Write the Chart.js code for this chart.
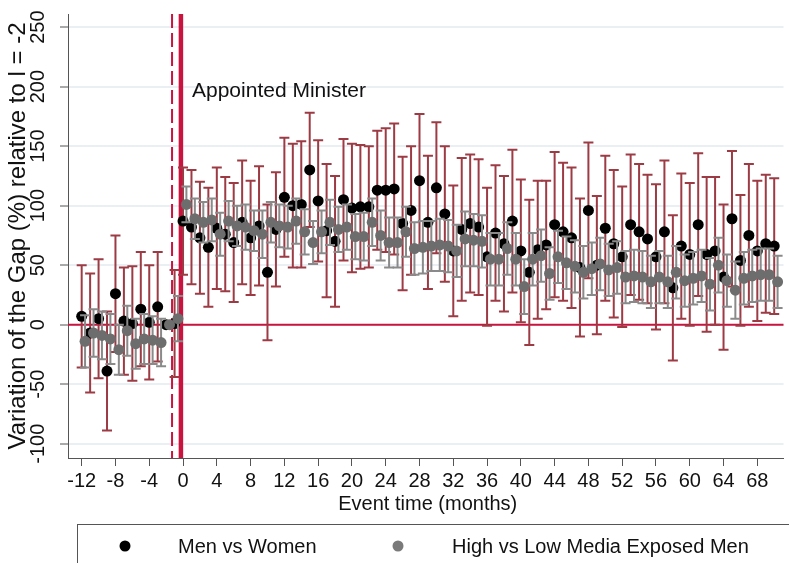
<!DOCTYPE html>
<html lang="en">
<head>
<meta charset="UTF-8">
<title>Variation of the Gap around the appointment</title>
<script src="https://cdn.jsdelivr.net/npm/chart.js@4.4.1/dist/chart.umd.min.js"></script>
<style>
  *{margin:0;padding:0;box-sizing:border-box}
  body{background:#fff;width:789px;height:563px;overflow:hidden}
  #chart{display:block}
</style>
</head>
<body>
<canvas id="chart" width="789" height="563"></canvas>
<script>
// event time (months); -2 is the reference month
const months = [-12,-11,-10,-9,-8,-7,-6,-5,-4,-3,-2,-1,
  0,1,2,3,4,5,6,7,8,9,10,11,12,13,14,15,16,17,18,19,20,21,22,23,24,25,26,27,28,29,
  30,31,32,33,34,35,36,37,38,39,40,41,42,43,44,45,46,47,48,49,50,51,52,53,54,55,56,57,
  58,59,60,61,62,63,64,65,66,67,68,69,70];

// Men vs Women: point estimate and half-width of the 95% CI
const menWomen = [7,-7,5,-39,26,3,1,13,2,15,0,1,
  87,82,73,65,81,76,69,86,73,83,44,80,107,100,101,130,104,79,70,105,98,99,99,113,113,114,85,96,121,86,
  115,93,62,80,85,82,57,77,68,87,62,44,63,67,84,78,73,48,96,50,81,68,57,84,78,72,57,78,
  31,66,59,84,59,62,40,89,54,75,62,68,66];
const menWomenCI = [43,50,50,50,49,45,48,48,48,46,0,45,
  45,48,47,50,51,48,50,52,48,50,57,48,50,52,53,48,51,56,55,51,54,52,51,50,52,55,56,54,56,56,
  55,57,55,60,58,57,58,57,57,60,60,61,58,54,61,58,59,58,57,58,61,62,59,59,57,54,61,60,
  61,61,60,60,65,62,61,57,55,60,59,58,57];

// High vs Low Media Exposed Men
const mediaExposed = [-14,-7,-9,-12,-21,-5,-16,-12,-13,-15,0,5,
  101,89,86,88,76,87,83,82,79,76,86,83,82,87,78,69,78,86,80,82,74,74,86,75,69,69,78,64,65,66,
  67,66,62,72,71,70,55,55,64,55,32,55,58,43,57,52,49,44,47,51,46,48,40,41,40,36,40,36,
  44,37,39,41,34,50,37,29,39,41,42,42,36];
const mediaExposedCI = [22,20,20,21,21,21,21,21,20,20,0,19,
  15,17,17,18,18,17,17,19,17,20,17,18,18,19,19,18,18,19,19,19,19,20,20,21,21,21,21,22,22,21,
  22,22,22,23,22,22,22,22,22,22,23,22,22,22,22,22,22,22,22,22,22,22,22,22,22,22,22,22,
  22,22,22,22,22,23,22,24,22,22,22,22,22];

const xTicks = [-12,-8,-4,0,4,8,12,16,20,24,28,32,36,40,44,48,52,56,60,64,68];
const yTicks = [-100,-50,0,50,100,150,200,250];

const FONT = '"Liberation Sans", Arial, Helvetica, sans-serif';
const RED = '#c8143f';

// vertical CI caps, drawn right before each scatter series
const errorBars = {
  id: 'errorBars',
  beforeDatasetDraw(chart, args) {
    const ds = chart.data.datasets[args.index];
    const y = chart.scales.y, c = chart.ctx;
    c.save();
    c.strokeStyle = ds.barColor;
    c.lineWidth = 2;
    args.meta.data.forEach((pt, i) => {
      const h = ds.halfWidth[i];
      if (!h) return;
      const v = ds.data[i].y;
      const top = y.getPixelForValue(v + h), bot = y.getPixelForValue(v - h);
      c.beginPath();
      c.moveTo(pt.x, top); c.lineTo(pt.x, bot);
      c.moveTo(pt.x - 5, top); c.lineTo(pt.x + 5, top);
      c.moveTo(pt.x - 5, bot); c.lineTo(pt.x + 5, bot);
      c.stroke();
    });
    c.restore();
  }
};

// zero line, announcement (dashed) and appointment (solid) markers
const refLines = {
  id: 'refLines',
  beforeDatasetsDraw(chart) {
    const {ctx: c, chartArea: a, scales: {x, y}} = chart;
    c.save();
    c.strokeStyle = RED;
    c.lineWidth = 2;
    const y0 = y.getPixelForValue(0);
    c.beginPath(); c.moveTo(a.left, y0); c.lineTo(a.right, y0); c.stroke();
    c.setLineDash([14, 5]);
    const xd = x.getPixelForValue(-1.3);
    c.beginPath(); c.moveTo(xd, a.top); c.lineTo(xd, a.bottom); c.stroke();
    c.setLineDash([]);
    c.lineWidth = 4.5;
    const xs = x.getPixelForValue(-0.25);
    c.beginPath(); c.moveTo(xs, a.top); c.lineTo(xs, a.bottom); c.stroke();
    c.restore();
  }
};

// axis titles, the annotation and the boxed legend
const labels = {
  id: 'labels',
  afterDraw(chart) {
    const {ctx: c, chartArea: a, scales: {x}} = chart;
    c.save();
    c.fillStyle = '#111';
    c.font = '21px ' + FONT;
    c.textBaseline = 'alphabetic';
    c.textAlign = 'left';
    c.fillText('Appointed Minister', 192, 97);

    c.font = '20px ' + FONT;
    c.textAlign = 'center';
    c.fillText('Event time (months)', (a.left + a.right) / 2 + 2, 510);

    c.save();
    c.translate(25, (a.top + a.bottom) / 2);
    c.rotate(-Math.PI / 2);
    c.font = '24px ' + FONT;
    c.fillText('Variation of the Gap (%) relative to l = -2', 0, 0);
    c.restore();

    // legend box runs off the bottom/right edge
    c.strokeStyle = '#555';
    c.lineWidth = 1;
    c.strokeRect(77.5, 524.5, 760, 60);
    c.font = '20px ' + FONT;
    c.textAlign = 'left';
    const items = [
      {dot: '#000', text: 'Men vs Women', dx: 125, tx: 178},
      {dot: '#7a7a7a', text: 'High vs Low Media Exposed Men', dx: 398, tx: 452}
    ];
    items.forEach(it => {
      c.fillStyle = it.dot;
      c.beginPath(); c.arc(it.dx, 546, 5.5, 0, Math.PI * 2); c.fill();
      c.fillStyle = '#111';
      c.fillText(it.text, it.tx, 553);
    });
    c.restore();
  }
};

new Chart(document.getElementById('chart'), {
  type: 'scatter',
  data: {
    datasets: [
      {
        label: 'Men vs Women',
        data: months.map((m, i) => ({x: m, y: menWomen[i]})),
        halfWidth: menWomenCI,
        barColor: '#9d3b45',
        backgroundColor: '#000',
        borderWidth: 0,
        pointRadius: 5.5,
        order: 1
      },
      {
        label: 'High vs Low Media Exposed Men',
        data: months.map((m, i) => ({x: m + 0.4, y: mediaExposed[i]})),
        halfWidth: mediaExposedCI,
        barColor: '#8a8a8a',
        backgroundColor: '#6d6d6d',
        borderWidth: 0,
        pointRadius: 5.5,
        order: 0
      }
    ]
  },
  options: {
    responsive: false,
    animation: false,
    events: [],
    layout: {padding: {top: 10, right: 0, left: 0, bottom: 0}},
    plugins: {legend: {display: false}, tooltip: {enabled: false}},
    scales: {
      x: {
        type: 'linear',
        min: -13.62,
        max: 71.1,
        afterFit(s) { s.height = 105; },
        afterBuildTicks(s) { s.ticks = xTicks.map(v => ({value: v})); },
        ticks: {font: {family: FONT, size: 20}, color: '#111', padding: 3, autoSkip: false, maxRotation: 0},
        grid: {drawOnChartArea: false, tickLength: 8, color: '#555', lineWidth: 1},
        border: {color: '#555', width: 1}
      },
      y: {
        min: -112,
        max: 261,
        afterFit(s) { s.width = 68; },
        afterBuildTicks(s) { s.ticks = yTicks.map(v => ({value: v})); },
        ticks: {font: {family: FONT, size: 20}, color: '#111', padding: 2, minRotation: 90, maxRotation: 90, crossAlign: 'center'},
        grid: {color: '#e9eff3', lineWidth: 2, tickLength: 8, tickColor: '#555', tickWidth: 1},
        border: {color: '#555', width: 1}
      }
    }
  },
  plugins: [errorBars, refLines, labels]
});
</script>
</body>
</html>
